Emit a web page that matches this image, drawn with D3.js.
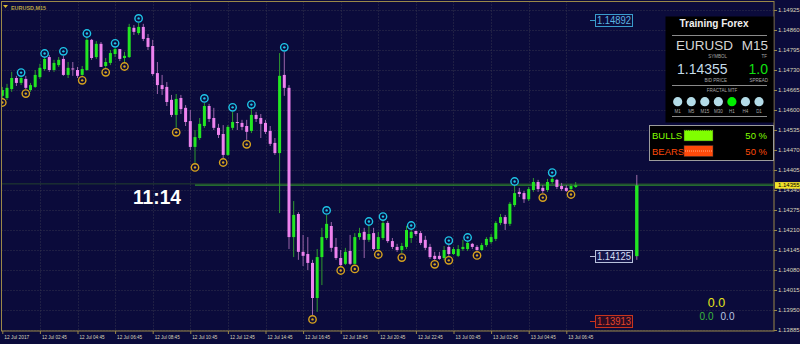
<!DOCTYPE html>
<html>
<head>
<meta charset="utf-8">
<script src="https://cdn.jsdelivr.net/npm/d3@7"></script>
<style>
body { margin: 0; background: #0b0b3b; }
svg { display: block; font-family: "Liberation Sans", Arial, sans-serif; }
</style>
</head>
<body>
<div id="canvas_fx"></div>
<script>
// ----------------------------------------------------------
// DATA -----------------------------------------------------
// ----------------------------------------------------------
// EURUSD M15, 12 Jul 00:45 -> 13 Jul 07:15
var bar_open = [1.14646,1.14639,1.14668,1.14704,1.14688,1.14701,1.14665,1.14675,1.14707,1.14733,
1.14772,1.14730,1.14746,1.14766,1.14714,1.14735,1.14730,1.14714,1.14730,1.14828,
1.14772,1.14815,1.14743,1.14753,1.14782,1.14798,1.14769,1.14772,1.14867,1.14850,
1.14870,1.14834,1.14808,1.14720,1.14681,1.14675,1.14633,1.14584,1.14639,1.14607,
1.14564,1.14480,1.14509,1.14548,1.14613,1.14574,1.14542,1.14522,1.14454,1.14542,
1.14561,1.14558,1.14548,1.14532,1.14584,1.14574,1.14558,1.14532,1.14493,1.14460,
1.14714,1.14672,1.14187,1.14262,1.14139,1.14132,1.14103,1.13989,1.14122,1.14184,
1.14223,1.14155,1.14119,1.14100,1.14142,1.14100,1.14187,1.14204,1.14178,1.14200,
1.14148,1.14184,1.14233,1.14174,1.14155,1.14145,1.14155,1.14184,1.14207,1.14200,
1.14178,1.14155,1.14126,1.14126,1.14119,1.14155,1.14132,1.14126,1.14148,1.14148,
1.14165,1.14155,1.14145,1.14161,1.14171,1.14181,1.14233,1.14252,1.14230,1.14291,
1.14334,1.14330,1.14310,1.14340,1.14366,1.14347,1.14340,1.14366,1.14373,1.14353,
1.14347,1.14343,1.14350];

var bar_high = [1.14675,1.14685,1.14724,1.14711,1.14707,1.14711,1.14688,1.14730,1.14750,1.14769,
1.14779,1.14763,1.14772,1.14776,1.14756,1.14756,1.14740,1.14743,1.14834,1.14831,
1.14824,1.14821,1.14769,1.14795,1.14802,1.14798,1.14789,1.14880,1.14876,1.14883,
1.14880,1.14847,1.14828,1.14756,1.14714,1.14691,1.14649,1.14652,1.14649,1.14616,
1.14600,1.14535,1.14574,1.14623,1.14620,1.14607,1.14555,1.14551,1.14551,1.14594,
1.14590,1.14568,1.14568,1.14603,1.14594,1.14587,1.14568,1.14548,1.14509,1.14785,
1.14789,1.14681,1.14304,1.14268,1.14194,1.14187,1.14113,1.14148,1.14217,1.14259,
1.14236,1.14184,1.14145,1.14152,1.14194,1.14200,1.14217,1.14217,1.14223,1.14217,
1.14204,1.14239,1.14239,1.14184,1.14165,1.14168,1.14223,1.14210,1.14207,1.14207,
1.14191,1.14165,1.14139,1.14139,1.14158,1.14161,1.14155,1.14161,1.14178,1.14171,
1.14168,1.14161,1.14168,1.14187,1.14197,1.14239,1.14262,1.14259,1.14301,1.14353,
1.14347,1.14337,1.14350,1.14379,1.14373,1.14356,1.14376,1.14382,1.14376,1.14363,
1.14356,1.14360,1.14366];

var bar_low = [1.14639,1.14633,1.14659,1.14678,1.14681,1.14668,1.14659,1.14672,1.14701,1.14727,
1.14724,1.14724,1.14740,1.14711,1.14704,1.14711,1.14704,1.14711,1.14727,1.14763,
1.14766,1.14740,1.14737,1.14746,1.14772,1.14759,1.14756,1.14769,1.14844,1.14844,
1.14824,1.14795,1.14711,1.14652,1.14649,1.14613,1.14577,1.14542,1.14587,1.14548,
1.14470,1.14428,1.14503,1.14542,1.14561,1.14535,1.14509,1.14444,1.14451,1.14535,
1.14535,1.14535,1.14503,1.14525,1.14561,1.14509,1.14522,1.14483,1.14454,1.14265,
1.14646,1.14148,1.14122,1.14113,1.14093,1.14080,1.13934,1.13944,1.14031,1.14178,
1.14139,1.14113,1.14093,1.14096,1.14096,1.14098,1.14178,1.14119,1.14171,1.14142,
1.14145,1.14178,1.14168,1.14148,1.14139,1.14135,1.14148,1.14168,1.14191,1.14161,
1.14145,1.14116,1.14113,1.14113,1.14113,1.14126,1.14129,1.14122,1.14142,1.14142,
1.14148,1.14142,1.14142,1.14155,1.14165,1.14174,1.14226,1.14210,1.14223,1.14285,
1.14317,1.14298,1.14304,1.14334,1.14334,1.14330,1.14334,1.14360,1.14343,1.14337,
1.14334,1.14340,1.14347];

var bar_close = [1.14665,1.14672,1.14704,1.14688,1.14704,1.14672,1.14681,1.14714,1.14737,1.14766,
1.14730,1.14753,1.14763,1.14714,1.14737,1.14732,1.14711,1.14733,1.14828,1.14769,
1.14815,1.14740,1.14756,1.14785,1.14798,1.14766,1.14776,1.14870,1.14854,1.14870,
1.14831,1.14805,1.14717,1.14681,1.14668,1.14626,1.14584,1.14636,1.14603,1.14561,
1.14480,1.14512,1.14555,1.14613,1.14571,1.14542,1.14519,1.14454,1.14545,1.14561,
1.14558,1.14545,1.14529,1.14584,1.14571,1.14555,1.14529,1.14490,1.14460,1.14711,
1.14672,1.14187,1.14259,1.14139,1.14126,1.14103,1.13989,1.14122,1.14187,1.14230,
1.14152,1.14119,1.14096,1.14139,1.14100,1.14187,1.14200,1.14178,1.14197,1.14148,
1.14187,1.14233,1.14174,1.14155,1.14145,1.14158,1.14210,1.14204,1.14197,1.14168,
1.14152,1.14122,1.14116,1.14116,1.14145,1.14132,1.14148,1.14148,1.14155,1.14168,
1.14155,1.14145,1.14161,1.14181,1.14187,1.14233,1.14252,1.14230,1.14295,1.14330,
1.14327,1.14310,1.14343,1.14366,1.14343,1.14337,1.14366,1.14376,1.14350,1.14343,
1.14337,1.14353,1.14355];

// bar indices carrying a fractal
var fractal_up = [4, 9, 13, 18, 24, 29, 43, 49, 53, 60, 69, 78, 81, 87, 95, 99, 109, 117];
var fractal_down = [0, 5, 17, 22, 26, 37, 41, 47, 52, 66, 72, 75, 80, 85, 92, 95, 101, 115, 121];

// axis labels
var time_labels = ["12 Jul 2017", "12 Jul 02:45", "12 Jul 04:45", "12 Jul 06:45", "12 Jul 08:45",
"12 Jul 10:45", "12 Jul 12:45", "12 Jul 14:45", "12 Jul 16:45", "12 Jul 18:45", "12 Jul 20:45",
"12 Jul 22:45", "13 Jul 00:45", "13 Jul 02:45", "13 Jul 04:45", "13 Jul 06:45"];
var price_ticks = [1.14925, 1.14860, 1.14795, 1.14730, 1.14665, 1.14600, 1.14535, 1.14470, 1.14405,
1.14340, 1.14275, 1.14210, 1.14145, 1.14080, 1.14015, 1.13950, 1.13885];

// daily candle (open, high, low, close) and daily levels (high, open, low)
var day_candle = [1.14125, 1.14389, 1.14113, 1.14355];
var day_levels = [1.14892, 1.14125, 1.13913];
var bid_price = 1.14355;

// panel
var panel_tf = ["M1", "M5", "M15", "M30", "H1", "H4", "D1"];
var panel_tf_state = [0, 0, 0, 0, 1, 0, 0];
var panel_spread = 1.0;
var bulls_bears = [50, 50];
var counter_values = [0.0, 0.0, 0.0];

// ----------------------------------------------------------
// SETTINGS -------------------------------------------------
// ----------------------------------------------------------
var set_fx = {
width: 800,
height: 344,
left: 1.5,
right: 774,
top: 1.5,
bottom: 331,
bar_step: 4.7,
bar_x0: 2.3,
body_width: 3,
day_index: 135,
bid_line_from: 41,
color_bg: "#0b0b3b",
color_border: "#9a8848",
color_grid: "#34344e",
color_axis_text: "#dcd6bc",
color_bull: "#22e622",
color_bear: "#ee82ee",
color_wick_bull: "#2f9a2f",
color_wick_bear: "#9a64aa",
color_frac_up: "#1ec4e6",
color_frac_down: "#d6a21e",
color_bid: "#2e8a2e"
};

// ----------------------------------------------------------
// STRUCTURE ------------------------------------------------
// ----------------------------------------------------------
var svg_fx = d3.select("#canvas_fx").append("svg")
.attr("width", set_fx.width)
.attr("height", set_fx.height)
.style("background-color", set_fx.color_bg);

svg_fx.append("defs").append("clipPath")
.attr("id", "clip_fx")
.append("rect")
.attr("x", set_fx.left)
.attr("y", set_fx.top)
.attr("width", set_fx.right - set_fx.left)
.attr("height", set_fx.bottom - set_fx.top);

var grid_group = svg_fx.append("g").attr("class", "grid_group");
var gfx_group = svg_fx.append("g").attr("class", "gfx_group").attr("clip-path", "url(#clip_fx)");
var axis_group = svg_fx.append("g").attr("class", "axis_group");
var text_group = svg_fx.append("g").attr("class", "text_group");

// ----------------------------------------------------------
// SCALES ---------------------------------------------------
// ----------------------------------------------------------
var x_scale = d3.scaleLinear()
.domain([0, 120])
.range([set_fx.bar_x0, set_fx.bar_x0 + 120 * set_fx.bar_step]);

var y_scale = d3.scaleLinear()
.domain([1.13885, 1.14925])
.range([330, 10]);

var time_ticks = d3.range(0, time_labels.length * 8, 8);

// ----------------------------------------------------------
// GRID -----------------------------------------------------
// ----------------------------------------------------------
grid_group.selectAll(".grid_h")
.data(price_ticks)
.enter()
.append("line")
.attr("x1", set_fx.left)
.attr("x2", set_fx.right)
.attr("y1", function(d) { return Math.round(y_scale(d)) + 0.5; })
.attr("y2", function(d) { return Math.round(y_scale(d)) + 0.5; })
.style("stroke", set_fx.color_grid)
.style("stroke-dasharray", "1,2");

grid_group.selectAll(".grid_v")
.data(time_ticks.slice(1))
.enter()
.append("line")
.attr("x1", function(d) { return Math.round(x_scale(d)) + 0.5; })
.attr("x2", function(d) { return Math.round(x_scale(d)) + 0.5; })
.attr("y1", set_fx.top)
.attr("y2", set_fx.bottom)
.style("stroke", set_fx.color_grid)
.style("stroke-dasharray", "1,2");

// ----------------------------------------------------------
// GFX ------------------------------------------------------
// ----------------------------------------------------------
var bars = bar_open.map(function(o, i) {
return {i: i, o: o, h: bar_high[i], l: bar_low[i], c: bar_close[i]};
});

// bid lines
gfx_group.append("line")
.attr("x1", set_fx.left)
.attr("x2", set_fx.right)
.attr("y1", y_scale(bid_price) - 1.5)
.attr("y2", y_scale(bid_price) - 1.5)
.style("stroke", "#23402e")
.style("stroke-width", 1);

gfx_group.append("line")
.attr("x1", x_scale(set_fx.bid_line_from))
.attr("x2", set_fx.right)
.attr("y1", y_scale(bid_price) - 0.3)
.attr("y2", y_scale(bid_price) - 0.3)
.style("stroke", set_fx.color_bid)
.style("stroke-width", 1.4);

// wicks
gfx_group.selectAll(".wick")
.data(bars)
.enter()
.append("line")
.attr("class", "wick")
.attr("x1", function(d) { return x_scale(d.i); })
.attr("x2", function(d) { return x_scale(d.i); })
.attr("y1", function(d) { return y_scale(d.h); })
.attr("y2", function(d) { return y_scale(d.l); })
.style("stroke", function(d) { return d.c >= d.o ? set_fx.color_wick_bull : set_fx.color_wick_bear; })
.style("stroke-width", 1);

// bodies
gfx_group.selectAll(".body")
.data(bars)
.enter()
.append("rect")
.attr("class", "body")
.attr("x", function(d) { return x_scale(d.i) - set_fx.body_width / 2; })
.attr("width", set_fx.body_width)
.attr("y", function(d) { return y_scale(Math.max(d.o, d.c)); })
.attr("height", function(d) { return Math.max(1, Math.abs(y_scale(d.o) - y_scale(d.c))); })
.style("fill", function(d) { return d.c >= d.o ? set_fx.color_bull : set_fx.color_bear; });

// fractals
function draw_fractal(sel, color) {
sel.append("circle")
.attr("r", 3.7)
.style("fill", set_fx.color_bg)
.style("stroke", color)
.style("stroke-width", 1.4);
sel.append("circle")
.attr("r", 1.2)
.style("fill", color);
}

var frac_up_g = gfx_group.selectAll(".frac_up")
.data(fractal_up)
.enter()
.append("g")
.attr("transform", function(i) { return "translate(" + x_scale(i) + "," + (y_scale(bar_high[i]) - 4.5) + ")"; });
draw_fractal(frac_up_g, set_fx.color_frac_up);

var frac_down_g = gfx_group.selectAll(".frac_down")
.data(fractal_down)
.enter()
.append("g")
.attr("transform", function(i) { return "translate(" + x_scale(i) + "," + (y_scale(bar_low[i]) + 4.5) + ")"; });
draw_fractal(frac_down_g, set_fx.color_frac_down);

// daily candle
var day_x = x_scale(set_fx.day_index);
gfx_group.append("line")
.attr("x1", day_x).attr("x2", day_x)
.attr("y1", y_scale(day_candle[1]))
.attr("y2", y_scale(day_candle[2]))
.style("stroke", "#a070a8");
gfx_group.append("rect")
.attr("x", day_x - 1.7)
.attr("width", 3.4)
.attr("y", y_scale(day_candle[3]))
.attr("height", y_scale(day_candle[0]) - y_scale(day_candle[3]))
.style("fill", set_fx.color_bull);

// daily level labels
var level_style = [
{text: "#5cb4e0", stroke: "#3a9ccc", fill: "#0b0b3b"},
{text: "#d4dcf2", stroke: "#b8c0dc", fill: "#15154a"},
{text: "#e2452a", stroke: "#c8341e", fill: "#2a0c26"}
];
var level_g = gfx_group.selectAll(".level")
.data(day_levels)
.enter()
.append("g")
.attr("transform", function(d) { return "translate(0," + Math.round(y_scale(d)) + ")"; });
level_g.append("line")
.attr("x1", 590).attr("x2", 595).attr("y1", 0.5).attr("y2", 0.5)
.style("stroke", function(d, i) { return level_style[i].stroke; });
level_g.append("rect")
.attr("x", 595.5).attr("y", -5.5).attr("width", 37).attr("height", 12)
.style("fill", function(d, i) { return level_style[i].fill; })
.style("stroke", function(d, i) { return level_style[i].stroke; });
level_g.append("text")
.attr("x", 597).attr("y", 4.3)
.attr("textLength", 34)
.attr("lengthAdjust", "spacingAndGlyphs")
.style("font-size", "10px")
.style("fill", function(d, i) { return level_style[i].text; })
.text(function(d) { return d3.format(".5f")(d); });

// ----------------------------------------------------------
// AXES -----------------------------------------------------
// ----------------------------------------------------------
var axis_right = d3.axisRight(y_scale)
.tickValues(price_ticks)
.tickFormat(d3.format(".5f"))
.tickSize(3)
.tickPadding(1);

var axis_r_g = axis_group.append("g")
.attr("transform", "translate(" + set_fx.right + ",0)")
.call(axis_right);
axis_r_g.select(".domain").remove();
axis_r_g.selectAll("line").style("stroke", set_fx.color_border);
axis_r_g.selectAll("text")
.style("font-size", "6px")
.style("font-family", "Liberation Sans, sans-serif")
.style("fill", set_fx.color_axis_text);

var axis_bottom = d3.axisBottom(x_scale)
.tickValues(time_ticks)
.tickFormat(function(d, k) { return time_labels[k]; })
.tickSize(3);

var axis_b_g = axis_group.append("g")
.attr("transform", "translate(0," + set_fx.bottom + ")")
.call(axis_bottom);
axis_b_g.select(".domain").remove();
axis_b_g.selectAll("line").style("stroke", set_fx.color_border);
axis_b_g.selectAll("text")
.attr("text-anchor", "start")
.attr("x", 1.5)
.attr("y", 8)
.attr("dy", null)
.attr("textLength", 25)
.attr("lengthAdjust", "spacingAndGlyphs")
.style("font-size", "5.5px")
.style("font-family", "Liberation Sans, sans-serif")
.style("fill", set_fx.color_axis_text);

// chart border
axis_group.append("rect")
.attr("x", set_fx.left)
.attr("y", set_fx.top)
.attr("width", set_fx.right - set_fx.left)
.attr("height", set_fx.bottom - set_fx.top)
.style("fill", "none")
.style("stroke", set_fx.color_border)
.style("stroke-width", 1);

// current price tag
axis_group.append("rect")
.attr("x", set_fx.right + 1)
.attr("y", y_scale(bid_price) - 3.3)
.attr("width", 26)
.attr("height", 6.6)
.style("fill", "#f2e22a");
axis_group.append("text")
.attr("x", set_fx.right + 4)
.attr("y", y_scale(bid_price) + 2.1)
.style("font-size", "6px")
.style("fill", "#000")
.text(d3.format(".5f")(bid_price));

// ----------------------------------------------------------
// TEXT -----------------------------------------------------
// ----------------------------------------------------------
text_group.append("path")
.attr("d", "M3,5 L8,5 L5.5,8 Z")
.style("fill", "#d8b830");
text_group.append("text")
.attr("x", 11).attr("y", 9.5)
.attr("textLength", 35)
.attr("lengthAdjust", "spacingAndGlyphs")
.style("font-size", "6px")
.style("font-weight", "bold")
.style("fill", "#b8a444")
.text("EURUSD,M15");

// candle countdown
text_group.append("text")
.attr("x", 133).attr("y", 203.5)
.attr("textLength", 48)
.attr("lengthAdjust", "spacingAndGlyphs")
.style("font-size", "20px")
.style("font-weight", "bold")
.style("fill", "#ffffff")
.text("11:14");

// info panel
var panel = text_group.append("g").attr("class", "panel");
panel.append("rect")
.attr("x", 665.5).attr("y", 16.5).attr("width", 108).attr("height", 106)
.style("fill", "#000000");
panel.append("text")
.attr("x", 714).attr("y", 26.5)
.attr("text-anchor", "middle")
.style("font-size", "10px").style("font-weight", "bold")
.style("fill", "#f0f0f0")
.text("Training Forex");
[35.5, 85.5, 116.5].forEach(function(yy) {
panel.append("line")
.attr("x1", 672).attr("x2", 767).attr("y1", yy).attr("y2", yy)
.style("stroke", "#8a8a8a").style("stroke-width", 1);
});

function panel_text(x, y, size, color, anchor, txt) {
return panel.append("text")
.attr("x", x).attr("y", y)
.attr("text-anchor", anchor)
.style("font-size", size + "px")
.style("fill", color)
.text(txt);
}
panel_text(676, 50, 13.5, "#d6d6d6", "start", "EURUSD");
panel_text(768, 50, 13.5, "#d6d6d6", "end", "M15");
panel_text(727, 57.8, 4.5, "#a8a8a8", "end", "SYMBOL");
panel_text(767, 57.8, 4.5, "#a8a8a8", "end", "TF");
panel_text(677, 74, 14, "#c4dcea", "start", d3.format(".5f")(bid_price));
panel_text(768, 74, 14, "#10e010", "end", d3.format(".1f")(panel_spread));
panel_text(727, 81.5, 4.5, "#a8a8a8", "end", "BID PRICE");
panel_text(768, 81.5, 4.5, "#a8a8a8", "end", "SPREAD");
panel_text(722, 92.3, 4.5, "#a8a8a8", "middle", "FRACTAL MTF");

var tf_g = panel.selectAll(".tf")
.data(panel_tf)
.enter()
.append("g")
.attr("transform", function(d, k) { return "translate(" + (677.7 + k * 13.55) + ",0)"; });
tf_g.append("circle")
.attr("cy", 101.7)
.attr("r", 4.6)
.style("fill", function(d, k) { return panel_tf_state[k] ? "#00f000" : "#b4dce8"; });
tf_g.append("text")
.attr("y", 112.8)
.attr("text-anchor", "middle")
.style("font-size", "4.5px")
.style("fill", "#a8a8a8")
.text(function(d) { return d; });

// bulls / bears box
var bb = text_group.append("g").attr("class", "bulls_bears");
bb.append("rect")
.attr("x", 649.5).attr("y", 125.5).attr("width", 124).attr("height", 35)
.style("fill", "#000000")
.style("stroke", "#9c9c9c");
var bb_rows = [
{name: "BULLS", color: "#80ff00", y: 130, line: "#3c7a00", ly: 130.5},
{name: "BEARS", color: "#ff4a0a", y: 145.5, line: "#ffb088", ly: 151}
];
bb_rows.forEach(function(r, k) {
bb.append("text")
.attr("x", 652).attr("y", r.y + 9)
.style("font-size", "9.5px")
.style("fill", r.color)
.text(r.name);
bb.append("rect")
.attr("x", 684).attr("y", r.y).attr("width", 29).attr("height", 11)
.style("fill", r.color)
.style("stroke", "#303030")
.style("stroke-width", 0.5);
bb.append("line")
.attr("x1", 685).attr("x2", 712).attr("y1", r.ly).attr("y2", r.ly)
.style("stroke", r.line)
.style("stroke-dasharray", "1,1");
bb.append("text")
.attr("x", 767).attr("y", r.y + 9)
.attr("text-anchor", "end")
.style("font-size", "9.5px")
.style("fill", r.color)
.text(bulls_bears[k] + "  %");
});

// counters bottom right
var fmt1 = d3.format(".1f");
text_group.append("text")
.attr("x", 716.5).attr("y", 306.5)
.attr("text-anchor", "middle")
.style("font-size", "12.5px")
.style("fill", "#e4e41a")
.text(fmt1(counter_values[0]));
text_group.append("text")
.attr("x", 706.5).attr("y", 319.5)
.attr("text-anchor", "middle")
.style("font-size", "10px")
.style("fill", "#3cb83c")
.text(fmt1(counter_values[1]));
text_group.append("text")
.attr("x", 727.5).attr("y", 319.5)
.attr("text-anchor", "middle")
.style("font-size", "10px")
.style("fill", "#bcc8e2")
.text(fmt1(counter_values[2]));
</script>
</body>
</html>
